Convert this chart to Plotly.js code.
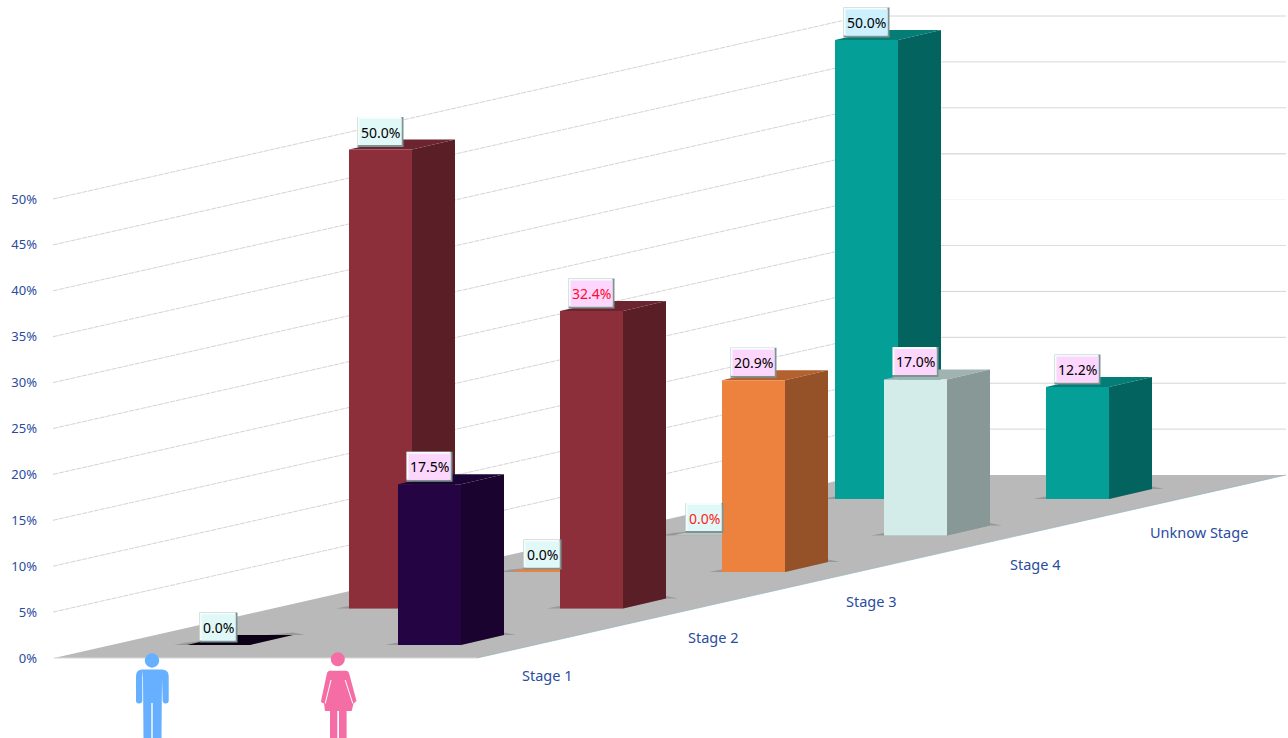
<!DOCTYPE html>
<html>
<head>
<meta charset="utf-8">
<script src="https://cdn.plot.ly/plotly-3.0.1.min.js"></script>
<style>html,body{margin:0;padding:0;background:#fff;overflow:hidden}#chart{width:1288px;height:738px}</style>
</head>
<body>
<div id="chart"></div>
<script>
// ---- data ----
const categories = ['Stage 1', 'Stage 2', 'Stage 3', 'Stage 4', 'Unknow Stage'];
const maleValues = [0.0, 50.0, 0.0, 0.0, 50.0];
const femaleValues = [17.5, 32.4, 20.9, 17.0, 12.2];
const yTicks = [0, 5, 10, 15, 20, 25, 30, 35, 40, 45, 50];

// ---- styles ----
const frontColors = ['#240442', '#8C2F3B', '#ED813E', '#D3ECE9', '#049F96'];
const sideColors  = ['#1A032E', '#5A1E26', '#955127', '#889897', '#03645F'];
const topColors   = ['#1C0335', '#6B2430', '#B3622F', '#A0B3B1', '#037D76'];
const flatColors  = ['#0C0016', '#6B2430', '#ED813E', '#B9C4C2', '#037D76'];
const labelFace = {male: ['#E0F9F8', '#E0F9F8', '#E0F9F8', '#E0F9F8', '#CDF0FF'], female: ['#FCD6FC', '#FCD6FC', '#FCD6FC', '#FCD6FC', '#FCD6FC']};
const labelText = {male: ['#000', '#000', '#000', '#FF2020', '#000'], female: ['#000', '#FF0A30', '#000', '#000', '#000']};
const backGridColor = {5: '#D4D4D4', 10: '#D4D4D4', 15: '#D4D4D4', 20: '#D4D4D4', 25: '#DDDDDD', 30: '#F6F6F6', 35: '#DDDDDD', 40: '#D8D8D8', 45: '#D8D8D8', 50: '#D4D4D4'};
const backGridWidth = {35: 1.6};
const FONT = 'Noto Sans, Open Sans, sans-serif';
const AXIS_BLUE = '#2A4CA0';

// ---- oblique projection (page px along x, percent along y) ----
const PX_PER_PCT = 9.18, BASE_PX = 658;
const X_START = 187, SERIES_DX = 211, CAT_DX = 162, CAT_RAISE = 36.5;
const BAR_W = 63, DEPTH_DX = 43, DEPTH_RAISE = 10, ROW_RAISE = 13;
const rise = px => px / PX_PER_PCT;
const pageY = py => (BASE_PX - py) / PX_PER_PCT;
function P(s, c, u, d, v) {
  return [X_START + SERIES_DX * s + CAT_DX * c + BAR_W * u + DEPTH_DX * d,
          v + rise(ROW_RAISE + CAT_RAISE * c + DEPTH_RAISE * d)];
}
function poly(pts, color) {
  return {type: 'scatter', mode: 'lines', x: pts.map(p => p[0]).concat(pts[0][0]), y: pts.map(p => p[1]).concat(pts[0][1]),
          fill: 'toself', fillcolor: color, line: {width: 0, color: color}, hoverinfo: 'skip', showlegend: false};
}
function line(pts, color, width, dash) {
  return {type: 'scatter', mode: 'lines', x: pts.map(p => p[0]), y: pts.map(p => p[1]),
          line: {color: color, width: width, dash: dash || 'solid'}, hoverinfo: 'skip', showlegend: false};
}

const traces = [];
// walls: gridlines run up the left wall, then along the back wall
const WALL_L = 53, WALL_B = 863, WALL_R = 1286, FLOOR_H = 183;
yTicks.slice(1).forEach(v => {
  traces.push(line([[WALL_L, v], [WALL_B, v + rise(FLOOR_H)]], '#C8C8C8', 0.8, '5px,1px'));
  traces.push(line([[WALL_B, v + rise(FLOOR_H)], [WALL_R, v + rise(FLOOR_H)]], backGridColor[v], backGridWidth[v] || 1));
});
// floor
const FLOOR_FR = 477;
traces.push(poly([[WALL_L + 1, 0], [FLOOR_FR, 0], [WALL_R, rise(FLOOR_H)], [WALL_B, rise(FLOOR_H)]], '#B9B9B9'));
traces.push(line([[FLOOR_FR, 0], [WALL_R, rise(FLOOR_H)]], '#8FB4BC', 0.7));
traces.push(line([[WALL_L + 1, 0], [FLOOR_FR, 0]], '#D8D8D8', 1));

// bars, back to front
function addBar(s, c, v) {
  const fl = P(s, c, 0, 0, 0), fr = P(s, c, 1, 0, 0), br = P(s, c, 1, 1, 0);
  traces.push(poly([[fl[0] - 13, fl[1]], fr, br, [br[0] + 12, br[1]], [br[0], br[1] + rise(2.5)], [fl[0], fl[1] + rise(2.5)]], 'rgba(130,130,130,0.6)'));
  if (v === 0) {
    traces.push(poly([P(s, c, 0, 0, 0), P(s, c, 1, 0, 0), P(s, c, 1, 1, 0), P(s, c, 0, 1, 0)], flatColors[c]));
    return;
  }
  traces.push(poly([P(s, c, 0, 0, v), P(s, c, 1, 0, v), P(s, c, 1, 1, v), P(s, c, 0, 1, v)], topColors[c]));
  traces.push(poly([P(s, c, 1, 0, 0), P(s, c, 1, 1, 0), P(s, c, 1, 1, v), P(s, c, 1, 0, v)], sideColors[c]));
  traces.push(poly([P(s, c, 0, 0, 0), P(s, c, 1, 0, 0), P(s, c, 1, 0, v), P(s, c, 0, 0, v)], frontColors[c]));
}
for (let c = categories.length - 1; c >= 0; c--) {
  addBar(0, c, maleValues[c]);
  addBar(1, c, femaleValues[c]);
}

// value labels: bevelled boxes with real text
const shapes = [], annotations = [];
function rect(x0, x1, y0, y1, color) {
  shapes.push({type: 'rect', xref: 'x', yref: 'y', x0, x1, y0: y0, y1: y1, fillcolor: color, line: {width: 0}, layer: 'above'});
}
function addLabel(s, c, v, face, textColor) {
  const text = v.toFixed(1) + '%';
  const w = v === 0 ? 38 : 46, hpx = 30;
  const base = P(s, c, 0.5, 0, v);
  const x0 = base[0] - w / 2, x1 = base[0] + w / 2;
  const y0 = base[1] + rise(2.5), y1 = y0 + rise(hpx);
  rect(x0, x1, y0, y1, '#7F9393');
  rect(x0, x1 - 2, y0 + rise(2), y1, '#F4FCFC');
  rect(x0 + 2, x1 - 2, y0 + rise(2), y1 - rise(2), face);
  annotations.push({x: base[0], y: (y0 + y1) / 2, xref: 'x', yref: 'y', text: text, showarrow: false,
    xanchor: 'center', yanchor: 'middle', font: {family: FONT, size: 14, color: textColor}});
}
categories.forEach((cat, c) => {
  addLabel(0, c, maleValues[c], labelFace.male[c], labelText.male[c]);
  addLabel(1, c, femaleValues[c], labelFace.female[c], labelText.female[c]);
});

// category labels along the floor's front edge
const CAT_LABEL_X = 547, CAT_LABEL_PY = 675, CAT_LABEL_DX = 163, CAT_LABEL_DY = 36;
const catNudge = [[0, 0], [3, -2], [-2, -2], [-1, -3], [0, 1]];
categories.forEach((cat, c) => {
  annotations.push({x: CAT_LABEL_X + CAT_LABEL_DX * c + catNudge[c][0], y: pageY(CAT_LABEL_PY - CAT_LABEL_DY * c + catNudge[c][1]),
    xref: 'x', yref: 'y', text: cat, showarrow: false, xanchor: 'center', yanchor: 'middle',
    font: {family: FONT, size: 14.5, color: AXIS_BLUE}});
});

// person pictograms (page px -> axis units)
function glyph(cmds, color) {
  const d = cmds.map(cmd => cmd[0] + ' ' + cmd.slice(1).map((n, i) => i % 2 ? pageY(n) : n).join(' ')).join(' ');
  shapes.push({type: 'path', xref: 'x', yref: 'y', path: d, fillcolor: color, line: {width: 0}, layer: 'above'});
}
function slit(x0, py0, x1, py1) {
  shapes.push({type: 'line', xref: 'x', yref: 'y', x0, x1, y0: pageY(py0), y1: pageY(py1), line: {color: '#fff', width: 1}, layer: 'above'});
}
function head(cx, cy, r, color) {
  shapes.push({type: 'circle', xref: 'x', yref: 'y', x0: cx - r, x1: cx + r, y0: pageY(cy + r), y1: pageY(cy - r), fillcolor: color, line: {width: 0}, layer: 'above'});
}
const BLUE = '#66B0FF', PINK = '#F46EA5';
head(152, 660.5, 7.2, BLUE);
// male: arms, torso and legs
glyph([['M', 142.3, 669.5], ['Q', 136, 669.5, 136, 676], ['L', 136, 700.5], ['Q', 136, 703.5, 139, 703.5], ['Q', 142.3, 703.5, 142.3, 700.5], ['Z']], BLUE);
glyph([['M', 161.7, 669.5], ['Q', 168.7, 669.5, 168.7, 676], ['L', 168.7, 700.5], ['Q', 168.7, 703.5, 165.5, 703.5], ['Q', 162.7, 703.5, 162.7, 700.5], ['Z']], BLUE);
glyph([['M', 142, 669.5], ['L', 162, 669.5], ['L', 162, 676], ['L', 161.5, 738], ['L', 152.7, 738], ['L', 152.7, 703], ['L', 151.3, 703], ['L', 151.3, 738], ['L', 143.5, 738], ['L', 143, 678], ['Z']], BLUE);
head(337.8, 659.3, 7, PINK);
// female: silhouette with arm slits, and legs
glyph([['M', 330, 670.7], ['L', 346, 670.7], ['Q', 348, 670.7, 349, 673], ['L', 356.5, 701], ['L', 353.5, 703.5], ['L', 351.7, 711], ['L', 325, 711], ['L', 324, 703.5], ['L', 320.8, 702], ['L', 327, 673], ['Q', 328, 670.7, 330, 670.7], ['Z']], PINK);
slit(331, 680, 325.2, 703.5);
slit(345.2, 680, 352.8, 703.5);
glyph([['M', 330, 710], ['L', 337.3, 710], ['L', 337.3, 738], ['L', 330, 738], ['Z']], PINK);
glyph([['M', 339, 710], ['L', 346.6, 710], ['L', 346.6, 738], ['L', 339, 738], ['Z']], PINK);

const MARGIN_L = 38;
const layout = {
  width: 1288, height: 738,
  margin: {l: MARGIN_L, r: 0, t: 0, b: 0, pad: 0},
  paper_bgcolor: '#fff', plot_bgcolor: 'rgba(0,0,0,0)',
  showlegend: false, hovermode: false,
  xaxis: {range: [MARGIN_L, 1288], visible: false, fixedrange: true},
  yaxis: {range: [pageY(738), pageY(0)], tickvals: yTicks, ticktext: yTicks.map(v => v + '%'),
    showgrid: false, zeroline: false, showline: false, ticks: '', fixedrange: true,
    tickfont: {family: FONT, size: 13, color: AXIS_BLUE}},
  shapes: shapes, annotations: annotations
};
Plotly.newPlot('chart', traces, layout, {displayModeBar: false, staticPlot: true});
</script>
</body>
</html>
